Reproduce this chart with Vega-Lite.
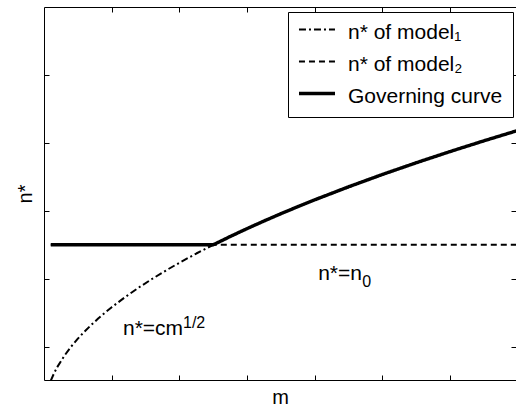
{
  "$schema": "https://vega.github.io/schema/vega-lite/v6.json",
  "width": 472,
  "height": 373,
  "autosize": {"type": "none"},
  "padding": {"left": 44, "top": 7, "right": 0, "bottom": 28},
  "background": "white",
  "config": {
    "view": {"stroke": null},
    "font": "Liberation Sans",
    "axis": {
      "domainColor": "black",
      "domainWidth": 1,
      "tickColor": "black",
      "tickWidth": 1,
      "tickSize": -5,
      "labels": false,
      "grid": false,
      "titleFont": "Liberation Sans",
      "titleFontSize": 20,
      "titleFontWeight": "normal",
      "titleColor": "black"
    },
    "legend": {
      "padding": 10,
      "rowPadding": 10,
      "labelFontSize": 21,
      "labelFont": "Liberation Sans",
      "labelColor": "black",
      "labelOffset": 29,
      "labelLimit": 0,
      "symbolType": "M-1.19,-0.375H3.31",
      "symbolSize": 256,
      "symbolStrokeColor": "black",
      "strokeColor": "black",
      "fillColor": "white",
      "cornerRadius": 0
    }
  },
  "layer": [
    {
      "data": {
        "values": [
          {"s": "a", "m": 0.1, "n": 0.5},
          {"s": "a", "m": 0.15, "n": 0.6124},
          {"s": "a", "m": 0.2, "n": 0.7071},
          {"s": "a", "m": 0.3, "n": 0.866},
          {"s": "a", "m": 0.4, "n": 1.0},
          {"s": "a", "m": 0.5, "n": 1.118},
          {"s": "a", "m": 0.6, "n": 1.2247},
          {"s": "a", "m": 0.7, "n": 1.3229},
          {"s": "a", "m": 0.8, "n": 1.4142},
          {"s": "a", "m": 0.9, "n": 1.5},
          {"s": "a", "m": 1.0, "n": 1.5811},
          {"s": "a", "m": 1.2, "n": 1.7321},
          {"s": "a", "m": 1.4, "n": 1.8708},
          {"s": "a", "m": 1.6, "n": 2.0},
          {"s": "a", "m": 1.8, "n": 2.1213},
          {"s": "a", "m": 2.0, "n": 2.2361},
          {"s": "a", "m": 2.25, "n": 2.3717},
          {"s": "a", "m": 2.5, "n": 2.5},
          {"s": "a", "m": 3.0, "n": 2.7386},
          {"s": "a", "m": 3.5, "n": 2.958},
          {"s": "a", "m": 4.0, "n": 3.1623},
          {"s": "a", "m": 5.0, "n": 3.5355},
          {"s": "a", "m": 6.0, "n": 3.873},
          {"s": "a", "m": 7.0, "n": 4.1833},
          {"s": "b", "m": 0.1, "n": 2.5},
          {"s": "b", "m": 7.0, "n": 2.5},
          {"s": "c", "m": 0.1, "n": 2.5},
          {"s": "c", "m": 2.5, "n": 2.5},
          {"s": "c", "m": 2.75, "n": 2.622},
          {"s": "c", "m": 3.0, "n": 2.7386},
          {"s": "c", "m": 3.25, "n": 2.8504},
          {"s": "c", "m": 3.5, "n": 2.958},
          {"s": "c", "m": 3.75, "n": 3.0619},
          {"s": "c", "m": 4.0, "n": 3.1623},
          {"s": "c", "m": 4.5, "n": 3.3541},
          {"s": "c", "m": 5.0, "n": 3.5355},
          {"s": "c", "m": 5.5, "n": 3.7081},
          {"s": "c", "m": 6.0, "n": 3.873},
          {"s": "c", "m": 6.5, "n": 4.0311},
          {"s": "c", "m": 7.0, "n": 4.1833}
        ]
      },
      "mark": {"type": "line", "clip": true, "strokeCap": "butt", "strokeJoin": "round"},
      "encoding": {
        "x": {
          "field": "m", "type": "quantitative",
          "scale": {"domain": [0, 6.972], "nice": false, "zero": false},
          "axis": {"orient": "bottom", "values": [1, 2, 3, 4, 5, 6], "title": "m", "titlePadding": 7}
        },
        "y": {
          "field": "n", "type": "quantitative",
          "scale": {"domain": [0.51, 6], "nice": false, "zero": false},
          "axis": {"orient": "left", "values": [1, 2, 3, 4, 5], "title": "n*", "titlePadding": 12, "titleBaseline": "alphabetic"}
        },
        "color": {
          "field": "s", "type": "nominal",
          "scale": {"domain": ["a", "b", "c"], "range": ["black", "black", "black"]},
          "legend": {"orient": "none", "legendX": 244, "legendY": 5, "title": null,
            "labelExpr": "datum.label == 'a' ? 'n* of model\u2081' : datum.label == 'b' ? 'n* of model\u2082' : 'Governing curve'"}
        },
        "strokeDash": {
          "field": "s", "type": "nominal",
          "scale": {"domain": ["a", "b", "c"], "range": [[7, 3, 2, 3], [6, 4], [1, 0]]},
          "legend": {"orient": "none", "legendX": 244, "legendY": 5, "title": null,
            "labelExpr": "datum.label == 'a' ? 'n* of model\u2081' : datum.label == 'b' ? 'n* of model\u2082' : 'Governing curve'"}
        },
        "strokeWidth": {
          "field": "s", "type": "ordinal",
          "scale": {"type": "ordinal", "domain": ["a", "b", "c"], "range": [2, 2, 3.4]},
          "legend": {"orient": "none", "legendX": 244, "legendY": 5, "title": null,
            "labelExpr": "datum.label == 'a' ? 'n* of model\u2081' : datum.label == 'b' ? 'n* of model\u2082' : 'Governing curve'"}
        }
      }
    },
    {
      "data": {"values": [{"m": 1, "n": 1}]},
      "mark": {"type": "point", "opacity": 0},
      "encoding": {
        "x": {
          "field": "m", "type": "quantitative",
          "scale": {"domain": [0, 6.972], "nice": false, "zero": false},
          "axis": {"orient": "top", "values": [1, 2, 3, 4, 5, 6], "title": null}
        },
        "y": {
          "field": "n", "type": "quantitative",
          "scale": {"domain": [0.51, 6], "nice": false, "zero": false},
          "axis": {"orient": "right", "values": [1, 2, 3, 4, 5], "title": null, "domain": false}
        }
      }
    },
    {
      "data": {"values": [{"m": 1.167, "n": 1.172, "t": "n*=cm"}]},
      "mark": {"type": "text", "align": "left", "baseline": "alphabetic", "fontSize": 21, "font": "Liberation Sans", "color": "black"},
      "encoding": {
        "x": {"field": "m", "type": "quantitative", "axis": null, "scale": {"domain": [0, 6.972], "nice": false, "zero": false}},
        "y": {"field": "n", "type": "quantitative", "axis": null, "scale": {"domain": [0.51, 6], "nice": false, "zero": false}},
        "text": {"field": "t"}
      }
    },
    {
      "data": {"values": [{"m": 1.167, "n": 1.172, "t": "1/2"}]},
      "mark": {"type": "text", "align": "left", "baseline": "alphabetic", "fontSize": 16, "font": "Liberation Sans", "color": "black", "dx": 60, "dy": -7},
      "encoding": {
        "x": {"field": "m", "type": "quantitative", "axis": null, "scale": {"domain": [0, 6.972], "nice": false, "zero": false}},
        "y": {"field": "n", "type": "quantitative", "axis": null, "scale": {"domain": [0.51, 6], "nice": false, "zero": false}},
        "text": {"field": "t"}
      }
    },
    {
      "data": {"values": [{"m": 4.05, "n": 1.982, "t": "n*=n"}]},
      "mark": {"type": "text", "align": "left", "baseline": "alphabetic", "fontSize": 21, "font": "Liberation Sans", "color": "black"},
      "encoding": {
        "x": {"field": "m", "type": "quantitative", "axis": null, "scale": {"domain": [0, 6.972], "nice": false, "zero": false}},
        "y": {"field": "n", "type": "quantitative", "axis": null, "scale": {"domain": [0.51, 6], "nice": false, "zero": false}},
        "text": {"field": "t"}
      }
    },
    {
      "data": {"values": [{"m": 4.05, "n": 1.982, "t": "0"}]},
      "mark": {"type": "text", "align": "left", "baseline": "alphabetic", "fontSize": 16, "font": "Liberation Sans", "color": "black", "dx": 44, "dy": 7},
      "encoding": {
        "x": {"field": "m", "type": "quantitative", "axis": null, "scale": {"domain": [0, 6.972], "nice": false, "zero": false}},
        "y": {"field": "n", "type": "quantitative", "axis": null, "scale": {"domain": [0.51, 6], "nice": false, "zero": false}},
        "text": {"field": "t"}
      }
    }
  ],
  "resolve": {"axis": {"x": "independent", "y": "independent"}}
}
